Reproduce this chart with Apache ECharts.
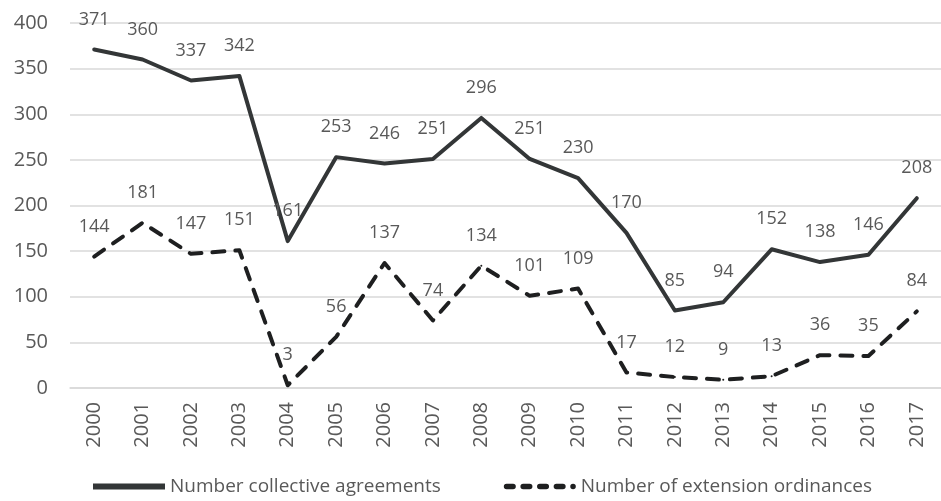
<!DOCTYPE html>
<html><head><meta charset="utf-8">
<script src="https://cdn.jsdelivr.net/npm/echarts@6/dist/echarts.min.js"></script>
<style>html,body{margin:0;padding:0;background:#fff}#c{width:941px;height:501px}</style>
</head><body><div id="c"></div>
<script>
const years = ['2000','2001','2002','2003','2004','2005','2006','2007','2008','2009','2010','2011','2012','2013','2014','2015','2016','2017'];
const agreements = [371,360,337,342,161,253,246,251,296,251,230,170,85,94,152,138,146,208];
const ordinances = [144,181,147,151,3,56,137,74,134,101,109,17,12,9,13,36,35,84];
const yTicks = [0,50,100,150,200,250,300,350,400];

const chart = echarts.init(document.getElementById('c'));
const font = 'Open Sans';
const labelCfg = {show:true,position:'top',distance:20,fontFamily:font,fontSize:18,color:'#595959'};
const dashIcon = 'path://M3,0h7a3,3 0 0 1 0,6h-7a3,3 0 0 1 0,-6z M21,0h7a3,3 0 0 1 0,6h-7a3,3 0 0 1 0,-6z M39,0h7a3,3 0 0 1 0,6h-7a3,3 0 0 1 0,-6z M57,0h7a3,3 0 0 1 0,6h-7a3,3 0 0 1 0,-6z M75,0a3,3 0 0 1 0,6a3,3 0 0 1 0,-6z';
chart.setOption({
  animation:false,
  grid:{left:70,right:0,top:23,bottom:113},
  legend:{bottom:0,left:88,itemGap:63,itemWidth:72,itemHeight:6,
    textStyle:{fontFamily:font,fontSize:19,color:'#595959'},
    data:[
      {name:'Number collective agreements',icon:'rect',itemStyle:{color:'#333637'}},
      {name:'Number of extension ordinances',icon:dashIcon,itemStyle:{color:'#1e1f20'}}
    ]},
  xAxis:{type:'category',data:years,boundaryGap:true,
    axisLine:{lineStyle:{color:'#d9d9d9',width:1.5}},axisTick:{show:false},
    axisLabel:{rotate:90,fontFamily:font,fontSize:20,color:'#595959',margin:14}},
  yAxis:{type:'value',min:yTicks[0],max:yTicks[yTicks.length-1],interval:50,
    axisLine:{show:false},axisTick:{show:false},
    splitLine:{lineStyle:{color:'#d9d9d9',width:1.5}},
    axisLabel:{fontFamily:font,fontSize:20,color:'#595959',margin:22}},
  series:[
    {name:'Number collective agreements',type:'line',data:agreements,symbol:'circle',symbolSize:2,showSymbol:true,
     lineStyle:{color:'#333637',width:4,join:'round',cap:'round'},itemStyle:{color:'#333637'},
     label:labelCfg},
    {name:'Number of extension ordinances',type:'line',data:ordinances,symbol:'circle',symbolSize:2,showSymbol:true,
     lineStyle:{color:'#1e1f20',width:4,type:[12,11],cap:'round',join:'round'},itemStyle:{color:'#1e1f20'},
     label:labelCfg}
  ]
});
</script></body></html>
